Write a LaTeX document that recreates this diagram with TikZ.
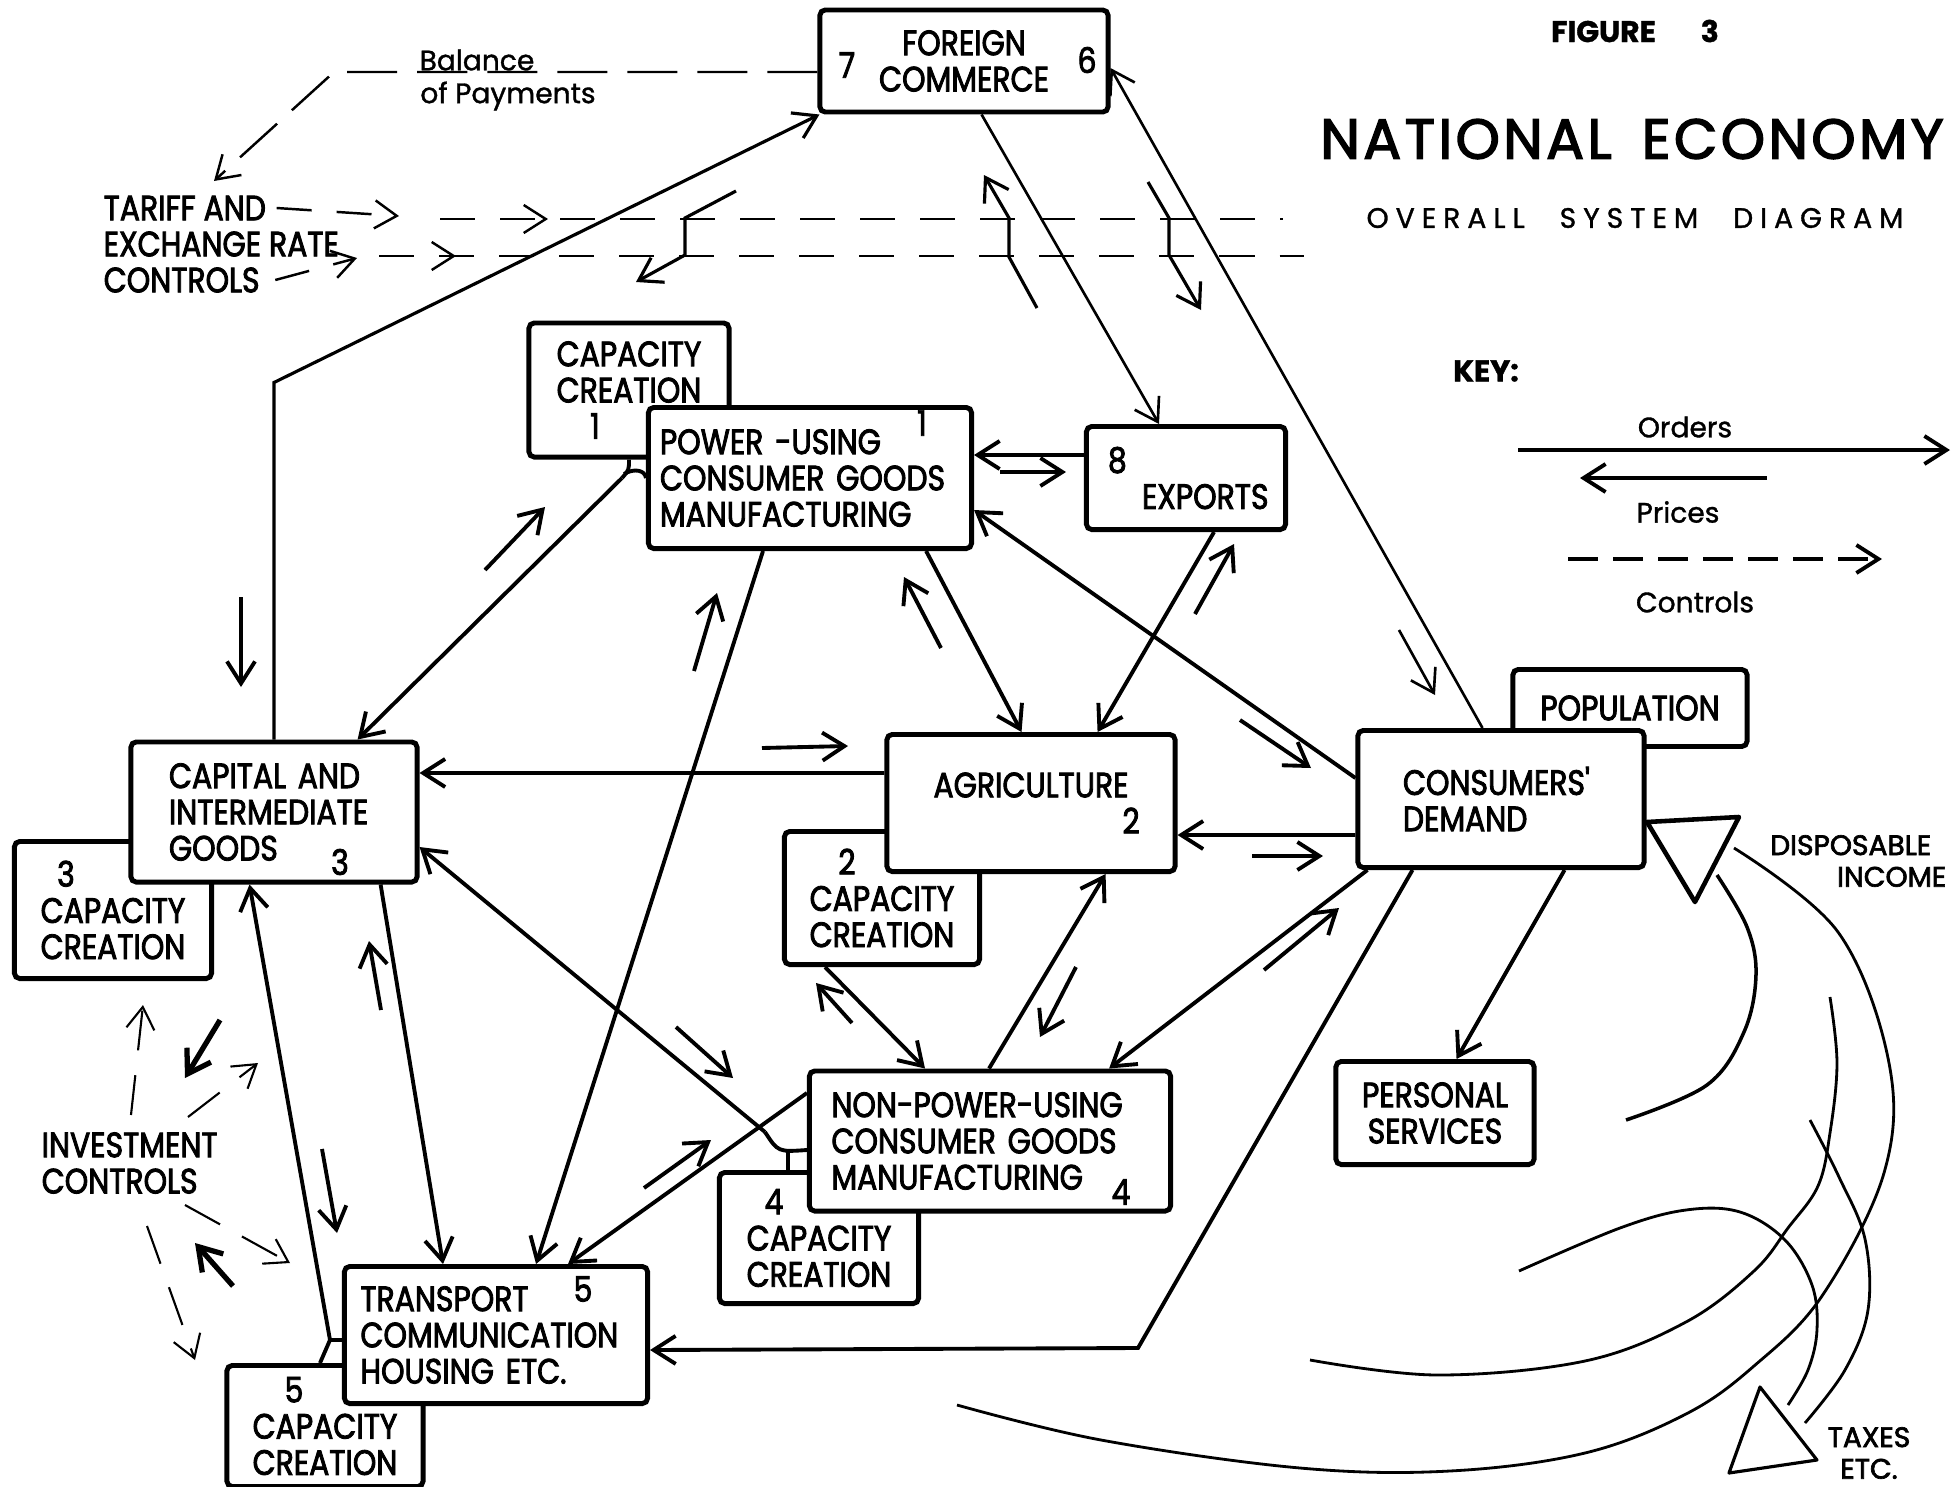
\documentclass[tikz,border=0pt]{standalone}
\usepackage{fontspec}
\setmainfont{Poppins}[FakeBold=1.2]
\newfontfamily\boxfont{Poppins}[FakeStretch=0.85, FakeBold=2.4]
\newfontfamily\markfont{Poppins}[FakeBold=2.4]
\newfontfamily\titlefont{Poppins}[LetterSpace=6, FakeBold=2.6]
\newfontfamily\subtitlefont{Poppins}[LetterSpace=25, FakeBold=1.2]
\usetikzlibrary{positioning, arrows.meta}

\begin{document}
\begin{tikzpicture}[x=0.01cm, y=-0.01cm, >={Straight Barb[length=2.2mm,width=2.8mm]}]
        \tikzstyle{box} = [rectangle, rounded corners=1.5pt, draw=black, line width=1.4pt, fill=white, inner sep=0pt, align=center, font=\boxfont\fontsize{10}{10.3}\selectfont]
        \tikzstyle{num} = [inner sep=0pt, font=\boxfont\fontsize{10}{10}\selectfont]
        \tikzstyle{caps} = [inner sep=0pt, align=left, font=\boxfont\fontsize{10}{10.3}\selectfont]
        \tikzstyle{lbl} = [inner sep=0pt, font=\fontsize{8}{9}\selectfont]
        \tikzstyle{boldlbl} = [inner sep=0pt, font=\markfont\fontsize{8}{9}\selectfont]
        \tikzstyle{order} = [line width=1.1pt, ->]
        \tikzstyle{fine} = [line width=0.75pt, ->]
        \tikzstyle{price} = [line width=1.1pt, ->]
        \tikzstyle{ctrl} = [line width=0.7pt, dash pattern=on 3.5mm off 2.5mm, ->]
        \tikzstyle{dashline} = [line width=0.7pt, dash pattern=on 3.5mm off 2.5mm]
        \tikzstyle{joint} = [line width=1.1pt]
        \tikzstyle{money} = [line width=0.8pt]

        \path[use as bounding box, fill=white] (0,0) rectangle (1953,1487);

        % capacity creation boxes, behind the sectors
        \node (capone) [box, minimum width=2.00cm, minimum height=1.34cm] at (629,390) {CAPACITY\\CREATION\\\hspace*{-0.68cm}1};
        \node (capthree) [box, minimum width=1.97cm, minimum height=1.37cm] at (113,910) {\hspace*{-0.94cm}3\\CAPACITY\\CREATION};
        \node (captwo) [box, minimum width=1.95cm, minimum height=1.33cm] at (882,898) {\hspace*{-0.7cm}2\\CAPACITY\\CREATION};
        \node (capfour) [box, minimum width=1.99cm, minimum height=1.31cm] at (819,1238) {\hspace*{-0.9cm}4\\CAPACITY\\CREATION};
        \node (capfive) [box, minimum width=1.96cm, minimum height=1.21cm] at (325,1426) {\hspace*{-0.62cm}5\\CAPACITY\\CREATION};
        \node (population) [box, minimum width=2.34cm, minimum height=0.77cm] at (1630,708) {POPULATION};

        % sectors
        \node (foreign) [box, minimum width=2.88cm, minimum height=1.02cm] at (964,61) {FOREIGN\\COMMERCE};
        \node (power) [box, minimum width=3.23cm, minimum height=1.41cm, align=left, text width=3.0cm] at (810,478) {POWER -USING\\CONSUMER GOODS\\MANUFACTURING};
        \node (exports) [box, minimum width=1.99cm, minimum height=1.03cm, align=left, text width=1.8cm] at (1186,478) {\hspace*{0.12cm}8\\\hspace*{0.46cm}EXPORTS};
        \node (capital) [box, minimum width=2.86cm, minimum height=1.40cm, align=left, text width=2.1cm] at (274,812) {CAPITAL AND\\INTERMEDIATE\\GOODS};
        \node (agri) [box, minimum width=2.88cm, minimum height=1.37cm] at (1031,803) {AGRICULTURE\\\hspace*{2cm}2};
        \node (consumers) [box, minimum width=2.86cm, minimum height=1.37cm, align=left, text width=1.96cm] at (1501,799) {CONSUMERS'\\DEMAND};
        \node (nonpower) [box, minimum width=3.61cm, minimum height=1.40cm, align=left, text width=3.17cm] at (990,1141) {NON-POWER-USING\\CONSUMER GOODS\\MANUFACTURING};
        \node (transport) [box, minimum width=3.03cm, minimum height=1.37cm, align=left, text width=2.71cm] at (496,1335) {TRANSPORT\\COMMUNICATION\\HOUSING ETC.};
        \node (personal) [box, minimum width=1.98cm, minimum height=1.03cm] at (1435,1113) {PERSONAL\\SERVICES};

        \node (numseven) [num] at (847,65) {7};
        \node (numsix) [num] at (1087,60) {6};
        \node (numone) [num] at (922,423) {1};
        \node (numthree) [num] at (340,862) {3};
        \node (numfour) [num] at (1121,1192) {4};
        \node (numfive) [num] at (583,1289) {5};

        % titles and key
        \node (figure) [inner sep=0pt, font=\bfseries\fontsize{8.5}{9}\selectfont] at (1635,31) {FIGURE\hspace{0.45cm}3};
        \node (title) [inner sep=0pt, font=\titlefont\fontsize{16}{18}\selectfont] at (1632,139) {NATIONAL\hspace{0.3cm}ECONOMY};
        \node (subtitle) [inner sep=0pt, font=\subtitlefont\fontsize{8}{9}\selectfont] at (1635,218) {OVERALL\hspace{0.35cm}SYSTEM\hspace{0.35cm}DIAGRAM};
        \node (key) [inner sep=0pt, font=\bfseries\fontsize{8.5}{9}\selectfont] at (1486,371) {KEY:};
        \node (orders) [lbl] at (1685,427) {Orders};
        \node (prices) [lbl] at (1678,512) {Prices};
        \node (controls) [lbl] at (1695,602) {Controls};
        \coordinate (ordersA) at (1518,450);
        \coordinate (ordersB) at (1950,450);
        \coordinate (pricesA) at (1767,478);
        \coordinate (pricesB) at (1580,478);
        \coordinate (controlsA) at (1568,559);
        \coordinate (controlsB) at (1882,559);
        \draw[order] (ordersA) -- (ordersB);
        \draw[price] (pricesA) -- (pricesB);
        \draw[ctrl, line width=1.1pt, dash pattern=on 3mm off 1.5mm] (controlsA) -- (controlsB);

        % tariff and balance of payments
        \node (balance) [lbl] at (477,60) {Balance};
        \node (payments) [lbl] at (508,96) {of Payments};
        \node (tariffA) [caps, anchor=west] at (103,208) {TARIFF AND};
        \node (tariffB) [caps, anchor=west] at (103,244) {EXCHANGE RATE};
        \node (tariffC) [caps, anchor=west] at (103,280) {CONTROLS};
        \coordinate (bopcorner) at (334,72);
        \coordinate (boptip) at (214,181);
        \draw[ctrl, dash pattern=on 5mm off 2mm] ([yshift=-0.11cm]foreign.west) -- (bopcorner) -- (boptip);
        \coordinate (tlineA) at (440,219);
        \coordinate (tlineB) at (379,256);
        \draw[ctrl] ([xshift=0.1cm]tariffA.east) -- (399,216);
        \draw[ctrl] (tlineA) -- (548,219);
        \draw[dashline] (tlineA) -- (1283,219);
        \draw[ctrl] (tlineB) -- (456,256);
        \draw[dashline] (tlineB) -- (1304,256);
        \draw[ctrl] ([xshift=0.15cm]tariffC.east) -- (357,258);
        \draw[fine, line width=0.9pt] (736,191) -- (685,218) -- (685,255) -- (636,282);
        \draw[fine, line width=0.9pt] (1037,308) -- (1009,257) -- (1009,218) -- (984,175);
        \draw[fine, line width=0.9pt] (1148,182) -- (1169,218) -- (1169,255) -- (1201,310);

        % joints of capacity creation
        \coordinate (jointone) at (622,478);
        \coordinate (jointfour) at (765,1132);
        \coordinate (jointfive) at (330,1340);
        \draw[joint] (capone.south) .. controls (629,470) .. (jointone);
        \draw[joint] (624,474) .. controls (634,468) and (645,470) .. (power.west);
        \draw[joint] (jointfour) .. controls (778,1152) .. ([yshift=-0.09cm]nonpower.west);
        \draw[joint] (788,1151) -- ([xshift=-0.31cm]capfour.north);
        \draw[joint] (jointfive) -- ([yshift=-0.05cm]transport.west);
        \draw[joint] (jointfive) -- ([xshift=-0.05cm]capfive.north);

        % orders
        \draw[fine] ([xshift=1.64cm]foreign.south west) -- ([xshift=0.75cm]exports.north west);
        \draw[fine] ([xshift=1.27cm]consumers.north west) -- ([yshift=-0.07cm]foreign.east);
        \draw[order, line width=0.9pt] (capital.north) -- ++(0,-357) -- ([xshift=0.02cm]foreign.south west);
        \draw[order] (jointone) -- ([xshift=2.29cm]capital.north west);
        \draw[order] ([xshift=1.17cm]power.south west) -- ([xshift=1.94cm]transport.north west);
        \draw[order] ([xshift=2.80cm]power.south west) -- ([xshift=1.37cm]agri.north west);
        \draw[order] ([xshift=1.30cm]exports.south west) -- ([xshift=2.13cm]agri.north west);
        \draw[order] ([yshift=0.23cm]exports.west) -- ([yshift=0.23cm]power.east);
        \draw[order] ([yshift=0.21cm]consumers.west) -- ([yshift=-0.32cm]power.east);
        \draw[order] ([yshift=0.30cm]agri.west) -- ([yshift=0.39cm]capital.east);
        \draw[order] ([yshift=-0.36cm]consumers.west) -- ([yshift=-0.32cm]agri.east);
        \draw[order] ([xshift=0.12cm]consumers.south west) -- ([xshift=3.02cm]nonpower.north west);
        \draw[order] ([xshift=0.57cm]consumers.south west) -- (1138,1348) -- ([yshift=-0.15cm]transport.east);
        \draw[order] ([xshift=2.09cm]consumers.south west) -- ([xshift=1.23cm]personal.north west);
        \draw[order] ([xshift=1.82cm]nonpower.north west) -- ([xshift=2.21cm]agri.south west);
        \draw[order] ([xshift=0.43cm]captwo.south west) -- ([xshift=1.18cm]nonpower.north west);
        \draw[order] (jointfour) -- ([yshift=-0.35cm]capital.east);
        \draw[order] ([yshift=0.48cm]nonpower.west) -- ([xshift=2.26cm]transport.north west);
        \draw[order] ([xshift=2.52cm]capital.south west) -- ([xshift=1.01cm]transport.north west);
        \draw[order] (jointfive) -- ([xshift=1.21cm]capital.south west);

        % prices
        \foreach \s/\e in {{241,597}/{241,687}, {485,570}/{545,507}, {694,671}/{717,593},
                {941,648}/{904,577}, {1195,614}/{1234,544}, {1000,472}/{1066,472},
                {1240,720}/{1311,768}, {762,748}/{848,746}, {1252,856}/{1323,856},
                {1264,970}/{1339,908}, {1076,967}/{1040,1037}, {852,1023}/{816,983},
                {676,1027}/{733,1078}, {644,1188}/{711,1140}, {381,1010}/{369,941},
                {322,1149}/{337,1233}}
            \draw[price] (\s) -- (\e);
        \draw[fine] (1399,630) -- (1435,695);

        % investment controls
        \node (invest) [caps, anchor=west] at (41,1163) {INVESTMENT\\CONTROLS};
        \foreach \s/\e in {{131,1115}/{143,1005}, {188,1117}/{258,1063}, {185,1205}/{290,1263}, {147,1226}/{195,1360}}
            \draw[ctrl, line width=0.6pt, dash pattern=on 4mm off 2.5mm] (\s) -- (\e);
        \draw[price, line width=1.5pt] (220,1020) -- (185,1078);
        \draw[price, line width=1.5pt] (233,1286) -- (195,1243);

        % income and taxes
        \draw[line width=1.3pt, line join=round] (1647,822) -- (1739,817) -- (1695,902) -- cycle;
        \draw[line width=0.9pt, line join=round] (1760,1387) -- (1729,1473) -- (1817,1460) -- cycle;
        \node (income) [boldlbl, align=right, anchor=east] at (1932,861) {DISPOSABLE\\INCOME\hspace*{-0.15cm}};
        \node (taxes) [boldlbl, align=center] at (1869,1453) {TAXES\\ETC.};
        \draw[money] plot[smooth, tension=0.6] coordinates {(1734,848) (1838,932) (1889,1063) (1884,1173) (1822,1296) (1754,1366) (1686,1414) (1585,1453) (1450,1471) (1300,1468) (1101,1440) (957,1405)};
        \draw[money, line width=1pt] plot[smooth, tension=0.6] coordinates {(1717,875) (1747,927) (1756,975) (1744,1032) (1707,1085) (1626,1120)};
        \draw[money] plot[smooth, tension=0.6] coordinates {(1830,997) (1837,1063) (1830,1133) (1818,1186) (1788,1228) (1754,1271) (1686,1322) (1585,1361) (1437,1375) (1310,1360)};
        \draw[money] plot[smooth, tension=0.6] coordinates {(1810,1120) (1839,1177) (1865,1239) (1868,1310) (1845,1370) (1805,1423)};
        \draw[money] plot[smooth, tension=0.6] coordinates {(1519,1271) (1620,1228) (1686,1210) (1740,1212) (1785,1240) (1812,1285) (1817,1330) (1808,1370) (1788,1405)};
    \end{tikzpicture}
\end{document}
